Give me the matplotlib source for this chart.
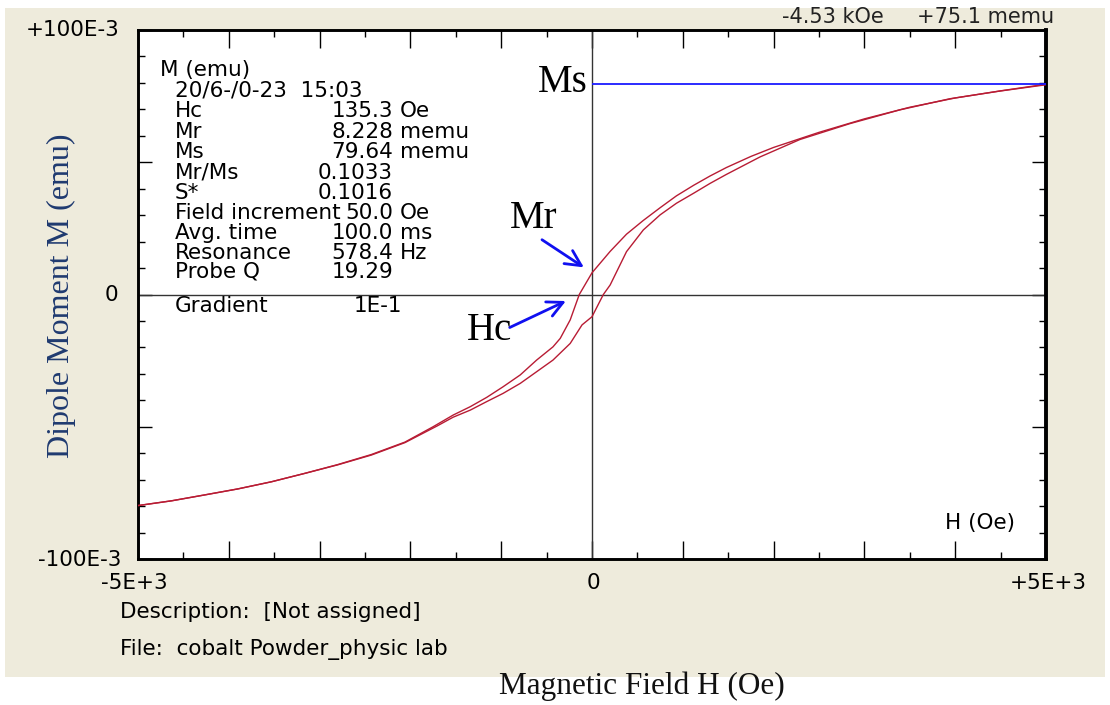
import matplotlib
matplotlib.use('Agg')
import numpy as np
import matplotlib.pyplot as plt
from matplotlib.ticker import MultipleLocator
from matplotlib.patches import Rectangle

# ---------------- data (H in Oe, M in memu) ----------------
H_desc = [5000, 4500, 4000, 3500, 3000, 2500, 2000, 1750, 1480, 1300, 1120, 930,
          750, 565, 380, 200, 0, -140, -240, -350, -430, -610, -790, -980,
          -1160, -1340, -1530, -1750, -2060, -2430, -2800, -3160, -3530, -3900,
          -4270, -4630, -5000]
M_desc = [79.5, 77.0, 74.3, 70.8, 66.4, 61.3, 55.6, 52.2, 48.0, 44.8, 41.3, 37.3,
          32.8, 28.0, 22.8, 16.3, 8.2, 0.0, -9.6, -16.6, -19.8, -24.8, -30.4, -34.9,
          -38.9, -42.4, -45.6, -50.0, -55.8, -60.5, -64.3, -67.6, -70.8, -73.5,
          -75.8, -78.0, -79.8]

H_asc = [-5000, -4630, -4270, -3900, -3530, -3160, -2800, -2430, -2060, -1700,
         -1530, -1340, -1160, -980, -790, -610, -430, -240, -110, 0, 125, 200,
         290, 380, 565, 750, 930, 1120, 1300, 1480, 1850, 2290, 2840, 3390, 3940,
         4490, 5000]
M_asc = [-79.8, -78.0, -75.8, -73.5, -70.8, -67.6, -64.4, -60.7, -56.0, -49.6,
         -46.4, -43.7, -40.5, -37.4, -33.6, -29.2, -24.8, -18.5, -11.5, -8.4, 0.0, 3.6,
         9.9, 16.2, 24.4, 30.1, 34.5, 38.3, 42.0, 45.4, 52.0, 58.6, 64.6, 69.8, 74.0,
         76.9, 79.3]

Ms_memu = 79.64
Mr_memu = 8.228
Hc_Oe = 135.3

info_labels = ["Hc", "Mr", "Ms", "Mr/Ms", "S*", "Field increment", "Avg. time",
               "Resonance", "Probe Q"]
info_values = ["135.3", "8.228", "79.64", "0.1033", "0.1016", "50.0", "100.0",
               "578.4", "19.29"]
info_units = ["Oe", "memu", "memu", "", "", "Oe", "ms", "Hz", ""]

x_ticklabels = ["-5E+3", "0", "+5E+3"]
y_ticklabels = ["+100E-3", "0", "-100E-3"]

# ---------------- figure ----------------
W, HH = 1110, 705
fig = plt.figure(figsize=(W / 100, HH / 100), dpi=100)
fig.patch.set_facecolor('white')


def fx(px):
    return px / W


def fy(py):
    return 1 - py / HH


bg = Rectangle((fx(5), fy(677)), fx(1105) - fx(5), fy(8) - fy(677),
               transform=fig.transFigure, facecolor='#eeebdc',
               edgecolor='none', zorder=-10)
fig.patches.append(bg)

ax = fig.add_axes([fx(138), fy(559), fx(1046) - fx(138), fy(30) - fy(559)])
ax.set_zorder(1)
ax.set_facecolor('white')
ax.set_xlim(-5000, 5000)
ax.set_ylim(-0.1, 0.1)

for s in ax.spines.values():
    s.set_linewidth(2.1)
    s.set_color('black')
ax.spines['right'].set_linewidth(2.8)

ax.xaxis.set_major_locator(MultipleLocator(1000))
ax.xaxis.set_minor_locator(MultipleLocator(500))
ax.yaxis.set_major_locator(MultipleLocator(0.05))
ax.yaxis.set_minor_locator(MultipleLocator(0.01))
ax.tick_params(which='both', direction='in', top=True, right=True,
               labelbottom=False, labelleft=False, width=1.0, color='black')
ax.tick_params(axis='x', which='major', length=13)
ax.tick_params(axis='x', which='minor', length=5)
ax.tick_params(axis='y', which='major', length=10)
ax.tick_params(axis='y', which='minor', length=5)

ax.axhline(0, color='#333333', lw=1.0, zorder=2)
ax.axvline(0, color='#333333', lw=1.0, zorder=2)

curve_color = '#b81c34'
ax.plot(H_desc, np.array(M_desc) / 1000, color=curve_color, lw=1.0, zorder=3)
ax.plot(H_asc, np.array(M_asc) / 1000, color=curve_color, lw=1.0, zorder=3)

ax.hlines(Ms_memu / 1000, 0, 5000, color='#1a1aff', lw=1.3, zorder=4)

# arrows
arrow_kw = dict(arrowstyle='->,head_length=0.7,head_width=0.35', color='#1010f0',
                lw=2.0, mutation_scale=16, shrinkA=0)
ax.annotate('', xy=(0, Mr_memu / 1000), xytext=(-50, 33), textcoords='offset pixels',
            arrowprops=dict(shrinkB=7, **arrow_kw), zorder=5)
ax.annotate('', xy=(-Hc_Oe, 0), xytext=(-70, -33), textcoords='offset pixels',
            arrowprops=dict(shrinkB=11, **arrow_kw), zorder=5)

# ---------------- texts ----------------
sans = 'DejaVu Sans'
serif = 'Liberation Serif'
fs = 15.5

fig.text(fx(119), fy(30), y_ticklabels[0], ha='right', va='center', fontsize=fs, family=sans)
fig.text(fx(118), fy(295), y_ticklabels[1], ha='right', va='center', fontsize=fs, family=sans)
fig.text(fx(121), fy(560), y_ticklabels[2], ha='right', va='center', fontsize=fs, family=sans)

fig.text(fx(134), fy(583), x_ticklabels[0], ha='center', va='center', fontsize=fs, family=sans)
fig.text(fx(593), fy(583), x_ticklabels[1], ha='center', va='center', fontsize=fs, family=sans)
fig.text(fx(1048), fy(583), x_ticklabels[2], ha='center', va='center', fontsize=fs, family=sans)

fig.text(fx(782), fy(17), "-4.53 kOe", ha='left', va='center', fontsize=15, family=sans, color='#222222')
fig.text(fx(917), fy(17), "+75.1 memu", ha='left', va='center', fontsize=15, family=sans, color='#222222')

ax.text(fx(945), fy(523), "H (Oe)", ha='left', va='center', fontsize=fs, family=sans,
        transform=fig.transFigure, zorder=6)

fig.text(fx(120), fy(612), "Description:  [Not assigned]", ha='left', va='center', fontsize=15.5, family=sans)
fig.text(fx(120), fy(650), "File:  cobalt Powder_physic lab", ha='left', va='center', fontsize=15.5, family=sans)


# info box (drawn inside the axes layer)
def t(px, py, s, **kw):
    ax.text(fx(px), fy(py), s, transform=fig.transFigure, va='center',
            fontsize=fs, family=sans, zorder=6, **kw)


t(160, 70, "M (emu)", ha='left')
t(175, 91, "20/6-/0-23  15:03", ha='left')
row_y = [111, 132, 152, 173, 193, 213, 233, 253, 272]
for lab, val, unit, yy in zip(info_labels, info_values, info_units, row_y):
    t(175, yy, lab, ha='left')
    t(393, yy, val, ha='right')
    if unit:
        t(400, yy, unit, ha='left')
t(175, 306, "Gradient", ha='left')
t(402, 306, "1E-1", ha='right')

# annotation labels
for px, py, s, ha in [(588, 83, "Ms", 'right'), (534, 218, "Mr", 'center'),
                      (490, 331, "Hc", 'center')]:
    ax.text(fx(px), fy(py), s, transform=fig.transFigure, ha=ha, va='center',
            fontsize=28, family=serif, color='black', zorder=6)

# axis titles
fig.text(fx(642), fy(686), "Magnetic Field H (Oe)", ha='center', va='center',
         fontsize=22.5, family=serif, color='#111111')
fig.text(fx(61), fy(296), "Dipole Moment M (emu)", ha='center', va='center',
         rotation=90, fontsize=23, family=serif, color='#1f3a70')

fig.savefig('out.png', dpi=100, facecolor=fig.get_facecolor())
